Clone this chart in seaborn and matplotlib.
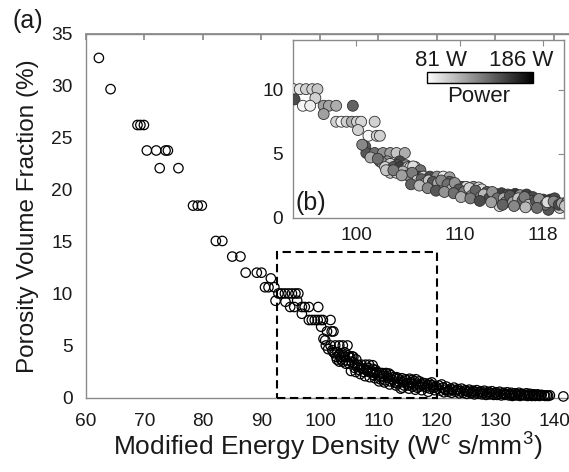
import matplotlib
matplotlib.use("Agg")
import matplotlib.pyplot as plt
import numpy as np
import pandas as pd
import seaborn as sns
from matplotlib.patches import Rectangle
from matplotlib.colors import Normalize
from matplotlib.cm import ScalarMappable

# ---------------- data ----------------
energy_a = [62.2, 64.2, 68.8, 69.3, 69.9, 70.4, 72.0, 73.6, 74.0, 72.6,
            75.8, 78.3, 79.1, 79.8, 82.2, 83.3, 85.0, 86.4, 87.3, 89.2,
            90.0, 91.6, 90.6, 91.2, 92.2, 92.4]
porosity_a = [32.7, 29.7, 26.25, 26.25, 26.25, 23.8, 23.8, 23.8, 23.8, 22.1,
              22.1, 18.5, 18.5, 18.5, 15.1, 15.1, 13.6, 13.6, 12.05, 12.05,
              12.05, 11.5, 10.65, 10.65, 10.65, 9.35]
power_a = [81, 86, 90, 95, 100, 90, 95, 100, 105, 85,
           110, 100, 105, 110, 100, 110, 105, 115, 100, 110,
           120, 105, 110, 115, 120, 125]

energy_b = [92.9, 93.4, 94.0, 94.6, 95.2, 95.8, 96.3, 94.1, 96.1, 94.9,
            95.6, 96.9, 97.4, 98.1, 99.7, 96.9, 98.1, 98.6, 99.1, 99.6,
            100.1, 100.5, 101.8, 100.2, 101.2, 102.0, 102.3, 100.9, 101.0, 101.8,
            102.6, 103.3, 103.9, 104.7, 102.3, 103.0, 104.2, 102.5, 103.3, 104.0,
            104.8, 102.8, 103.6, 104.2, 105.0, 105.7, 103.3, 103.9, 105.2]
porosity_b = [10.05, 10.05, 10.05, 10.05, 10.05, 10.05, 10.05, 9.25, 9.35, 8.75,
              8.75, 8.75, 8.75, 8.75, 8.75, 8.1, 7.5, 7.5, 7.5, 7.5,
              7.5, 7.5, 7.5, 6.85, 6.4, 6.4, 6.4, 5.55, 5.05, 5.05,
              5.05, 5.05, 5.05, 5.05, 4.4, 4.4, 4.4, 4.3, 4.2, 4.1,
              4.1, 3.95, 3.95, 3.95, 3.95, 3.95, 3.5, 3.5, 3.9]
power_b = [120, 100, 98, 92, 100, 100, 105, 155, 100, 85,
           88, 120, 118, 115, 145, 120, 100, 86, 100, 115,
           100, 98, 100, 100, 85, 100, 100, 150, 150, 140,
           125, 120, 105, 115, 120, 125, 155, 125, 100, 150,
           130, 100, 150, 160, 100, 95, 105, 100, 95]

energy_c = [105.5, 106.2, 106.0, 106.5, 107.1, 107.8, 108.4, 109.0, 107.5, 108.1,
            108.6, 109.3, 109.7, 110.2, 110.6, 111.3, 111.8, 110.3, 111.6, 112.1,
            112.9, 113.4, 114.0, 113.2, 113.8, 114.6, 115.3, 115.8, 116.4, 114.9,
            115.5, 115.8, 117.0, 117.1, 118.0, 118.7, 119.1, 117.9, 118.8, 119.6,
            118.5, 119.3, 116.8, 112.6, 110.8, 109.0]
porosity_c = [4.0, 3.7, 3.2, 3.2, 3.2, 3.2, 3.2, 3.15, 2.5, 2.6,
              2.45, 2.4, 2.5, 2.4, 2.4, 2.4, 2.35, 1.8, 1.95, 2.2,
              1.9, 1.85, 1.9, 1.4, 0.9, 1.8, 1.85, 1.75, 1.8, 1.4,
              1.4, 1.1, 1.6, 1.1, 1.4, 1.4, 1.5, 1.1, 0.9, 0.75,
              0.6, 1.2, 1.3, 2.0, 2.1, 2.8]
power_c = [95, 140, 160, 95, 155, 125, 90, 120, 160, 155,
           95, 125, 115, 155, 95, 125, 100, 84, 160, 95,
           125, 120, 160, 100, 100, 155, 165, 125, 160, 125,
           140, 100, 155, 95, 160, 165, 155, 85, 100, 100,
           150, 140, 140, 150, 165, 150]

energy_e = [104.5, 105.0, 105.4, 105.9, 106.3, 106.7, 107.0, 107.4, 107.9, 108.2,
            108.8, 109.2, 109.5, 109.9, 110.4, 110.9, 111.1, 111.5, 112.0, 112.3,
            112.8, 113.1, 113.6, 114.2, 114.4, 114.8, 115.1, 115.6, 116.0, 116.2,
            116.6, 117.3, 117.6, 118.2, 118.4, 119.0, 119.5, 119.8]
porosity_e = [3.6, 3.3, 3.5, 2.9, 3.0, 2.7, 2.9, 2.8, 2.7, 2.9,
              2.6, 2.2, 2.7, 2.2, 2.0, 2.3, 1.7, 2.1, 1.6, 1.8,
              1.5, 2.0, 1.5, 1.5, 1.2, 1.7, 1.2, 1.5, 1.3, 1.6,
              1.0, 1.3, 1.45, 1.0, 1.2, 1.25, 1.0, 1.1]
power_e = [110, 125, 135, 100, 145, 120, 105, 150, 115, 130,
           140, 110, 125, 150, 135, 100, 120, 145, 130, 110,
           155, 125, 140, 115, 130, 150, 120, 105, 145, 135,
           110, 150, 125, 140, 95, 130, 155, 120]

energy_g = [100.6, 101.4, 102.1, 102.9, 103.6, 104.4, 105.3, 106.1, 106.9, 107.7,
            108.5, 109.4, 110.1, 111.0, 111.9, 113.0, 114.1, 115.2, 116.3, 117.4]
porosity_g = [5.7, 4.7, 4.6, 3.7, 3.7, 3.3, 2.6, 2.5, 2.3, 2.1,
              2.0, 1.9, 1.6, 1.5, 1.3, 1.2, 1.0, 0.9, 0.8, 0.75]
power_g = [130, 115, 140, 105, 135, 120, 145, 110, 130, 150,
           125, 140, 115, 135, 155, 120, 145, 130, 110, 140]

energy_d = [120.3, 120.6, 121.0, 121.2, 121.6, 121.9, 122.3, 122.5, 122.9, 123.2,
            123.6, 123.8, 124.2, 124.5, 124.9, 125.1, 125.5, 125.8, 126.2, 126.4,
            126.8, 127.1, 127.5, 127.7, 128.1, 128.4, 128.8, 129.0, 129.4, 129.7,
            130.1, 130.3, 130.7, 131.0, 131.4, 131.6, 132.0, 132.3, 132.7, 132.9,
            133.3, 133.6, 134.0, 134.2, 134.6, 134.9, 135.3, 135.5, 135.9, 136.2,
            136.6, 136.8, 137.2, 137.5, 137.9, 138.3, 138.8, 139.3, 141.6]
porosity_d = [1.2, 0.7, 1.0, 0.55, 1.1, 0.6, 0.9, 0.5, 1.0, 0.6,
              0.85, 0.45, 0.9, 0.5, 0.75, 0.4, 0.8, 0.45, 0.7, 0.35,
              0.75, 0.4, 0.65, 0.35, 0.7, 0.3, 0.6, 0.35, 0.65, 0.3,
              0.55, 0.3, 0.6, 0.25, 0.5, 0.3, 0.55, 0.25, 0.5, 0.2,
              0.45, 0.25, 0.5, 0.2, 0.4, 0.25, 0.45, 0.2, 0.4, 0.2,
              0.35, 0.2, 0.35, 0.2, 0.3, 0.25, 0.25, 0.25, 0.15]
power_d = [130, 95, 160, 110, 145, 100, 170, 120, 90, 150,
           135, 105, 165, 115, 140, 95, 155, 125, 100, 175,
           130, 110, 160, 120, 90, 145, 135, 100, 170, 115,
           150, 95, 140, 125, 165, 105, 130, 155, 110, 180,
           120, 100, 145, 135, 160, 95, 125, 150, 115, 170,
           140, 105, 130, 160, 120, 100, 150, 135, 186]

energy_f = [120.1, 120.8, 121.4, 122.0, 122.7, 123.4, 124.0, 124.7, 125.3, 126.0,
            126.6, 127.3, 127.9, 128.6, 129.2, 129.9, 130.5, 131.2, 131.8, 132.5,
            133.1, 133.8, 134.4, 135.1, 135.7, 136.4, 137.0, 137.7, 138.5, 139.0]
porosity_f = [0.9, 1.3, 0.8, 0.75, 0.8, 0.75, 0.65, 0.7, 0.6, 0.55,
              0.55, 0.55, 0.5, 0.45, 0.45, 0.45, 0.4, 0.4, 0.35, 0.35,
              0.3, 0.35, 0.3, 0.3, 0.25, 0.3, 0.25, 0.25, 0.2, 0.2]
power_f = [105, 140, 125, 160, 115, 150, 95, 135, 170, 110,
           145, 120, 100, 165, 130, 150, 115, 140, 90, 160,
           125, 105, 175, 135, 110, 150, 120, 145, 100, 130]

x_ticks_main = [60, 70, 80, 90, 100, 110, 120, 130, 140]
y_ticks_main = [0, 5, 10, 15, 20, 25, 30, 35]
x_ticks_inset = [100, 110, 118]
y_ticks_inset = [0, 5, 10]
power_min, power_max = 81, 186
zoom_box = (92.7, 120.0, 0.0, 14.0)   # x0, x1, y0, y1

df = pd.DataFrame({
    "energy": energy_a + energy_b + energy_c + energy_e + energy_g + energy_d + energy_f,
    "porosity": porosity_a + porosity_b + porosity_c + porosity_e + porosity_g + porosity_d + porosity_f,
    "power": power_a + power_b + power_c + power_e + power_g + power_d + power_f,
})

# ---------------- style ----------------
sns.set_theme(style="white")
plt.rcParams['font.family'] = ['Liberation Sans', 'DejaVu Sans']
plt.rcParams['mathtext.fontset'] = 'custom'
plt.rcParams['mathtext.rm'] = 'Liberation Sans'
plt.rcParams['mathtext.it'] = 'Liberation Sans:italic'
SPINE = '#8a8a8a'
TXT = '#1a1a1a'

W, H = 569, 472
fig = plt.figure(figsize=(W / 100, H / 100), dpi=100)
fig.patch.set_facecolor('white')

# ---------------- main axes ----------------
ax = fig.add_axes([86 / W, 74 / H, 482.6 / W, 364 / H])
sns.scatterplot(data=df, x="energy", y="porosity", ax=ax, s=46,
                edgecolor='black', linewidth=0.9, legend=False,
                clip_on=False, zorder=3)
for coll in ax.collections:
    coll.set_facecolor('none')
    coll.set_edgecolor('black')

ax.set_xlim(60, 142.5)
ax.set_ylim(0, 35)
ax.set_xticks(x_ticks_main)
ax.set_yticks(y_ticks_main)
ax.tick_params(axis='both', labelsize=13.8, labelcolor=TXT, colors=SPINE,
               direction='out', length=4.5, width=0.8, pad=5)
ax.tick_params(axis='x', pad=6)
for sp in ['left', 'bottom', 'top']:
    ax.spines[sp].set_color(SPINE)
    ax.spines[sp].set_linewidth(1.0)
ax.spines['right'].set_visible(False)

top = ax.secondary_xaxis('top')
top.set_xticks(x_ticks_main)
top.tick_params(direction='in', length=4, colors=SPINE, labeltop=False)
top.spines['top'].set_color(SPINE)

ax.set_xlabel('Modified Energy Density (W$^{\\mathrm{c}}$ s/mm$^3$)',
              fontsize=19, color=TXT, labelpad=1)
ax.set_ylabel('Porosity Volume Fraction (%)', fontsize=17.5, color=TXT,
              labelpad=9)

x0, x1, y0, y1 = zoom_box
ax.add_patch(Rectangle((x0, y0), x1 - x0, y1 - y0, fill=False,
                       edgecolor='black', linestyle=(0, (4, 2.2)),
                       linewidth=1.5, zorder=4, clip_on=False))

fig.text(12 / W, 1 - 21 / H, '(a)', fontsize=18, color=TXT,
         ha='left', va='center')

# ---------------- inset ----------------
axi = fig.add_axes([293 / W, (H - 217.5) / H, 271 / W, 177.5 / H])
dfi = df[(df["energy"] >= 93.0) & (df["energy"] <= 121)]
sns.scatterplot(data=dfi, x="energy", y="porosity", hue="power",
                palette='gray_r', hue_norm=(power_min, power_max), ax=axi,
                s=62, edgecolor='#303030', linewidth=0.6, legend=False,
                zorder=3)
axi.set_xlim(93.95, 120.0)
axi.set_ylim(0, 13.9)
axi.set_xticks(x_ticks_inset)
axi.set_yticks(y_ticks_inset)
axi.set_xlabel('')
axi.set_ylabel('')
axi.tick_params(axis='both', labelsize=13.8, labelcolor=TXT, colors=SPINE,
                direction='in', length=4, width=0.8, pad=7,
                top=True, right=True)
for sp in axi.spines.values():
    sp.set_color(SPINE)
    sp.set_linewidth(1.0)
axi.text(0.01, 0.015, '(b)', transform=axi.transAxes, fontsize=18,
         color=TXT, ha='left', va='bottom', zorder=5)

# ---------------- colour bar ----------------
cax = fig.add_axes([427 / W, (H - 83) / H, 106 / W, 11 / H])
sm = ScalarMappable(norm=Normalize(power_min, power_max), cmap='gray_r')
cb = fig.colorbar(sm, cax=cax, orientation='horizontal')
cb.set_ticks([])
cb.outline.set_edgecolor('black')
cb.outline.set_linewidth(1.0)
fig.text(441 / W, 1 - 60 / H, f'{power_min} W', fontsize=16, color=TXT,
         ha='center', va='center')
fig.text(521 / W, 1 - 60 / H, f'{power_max} W', fontsize=16, color=TXT,
         ha='center', va='center')
fig.text(479 / W, 1 - 97 / H, 'Power', fontsize=16, color=TXT,
         ha='center', va='center')

fig.savefig('out.png', dpi=100, facecolor='white')
